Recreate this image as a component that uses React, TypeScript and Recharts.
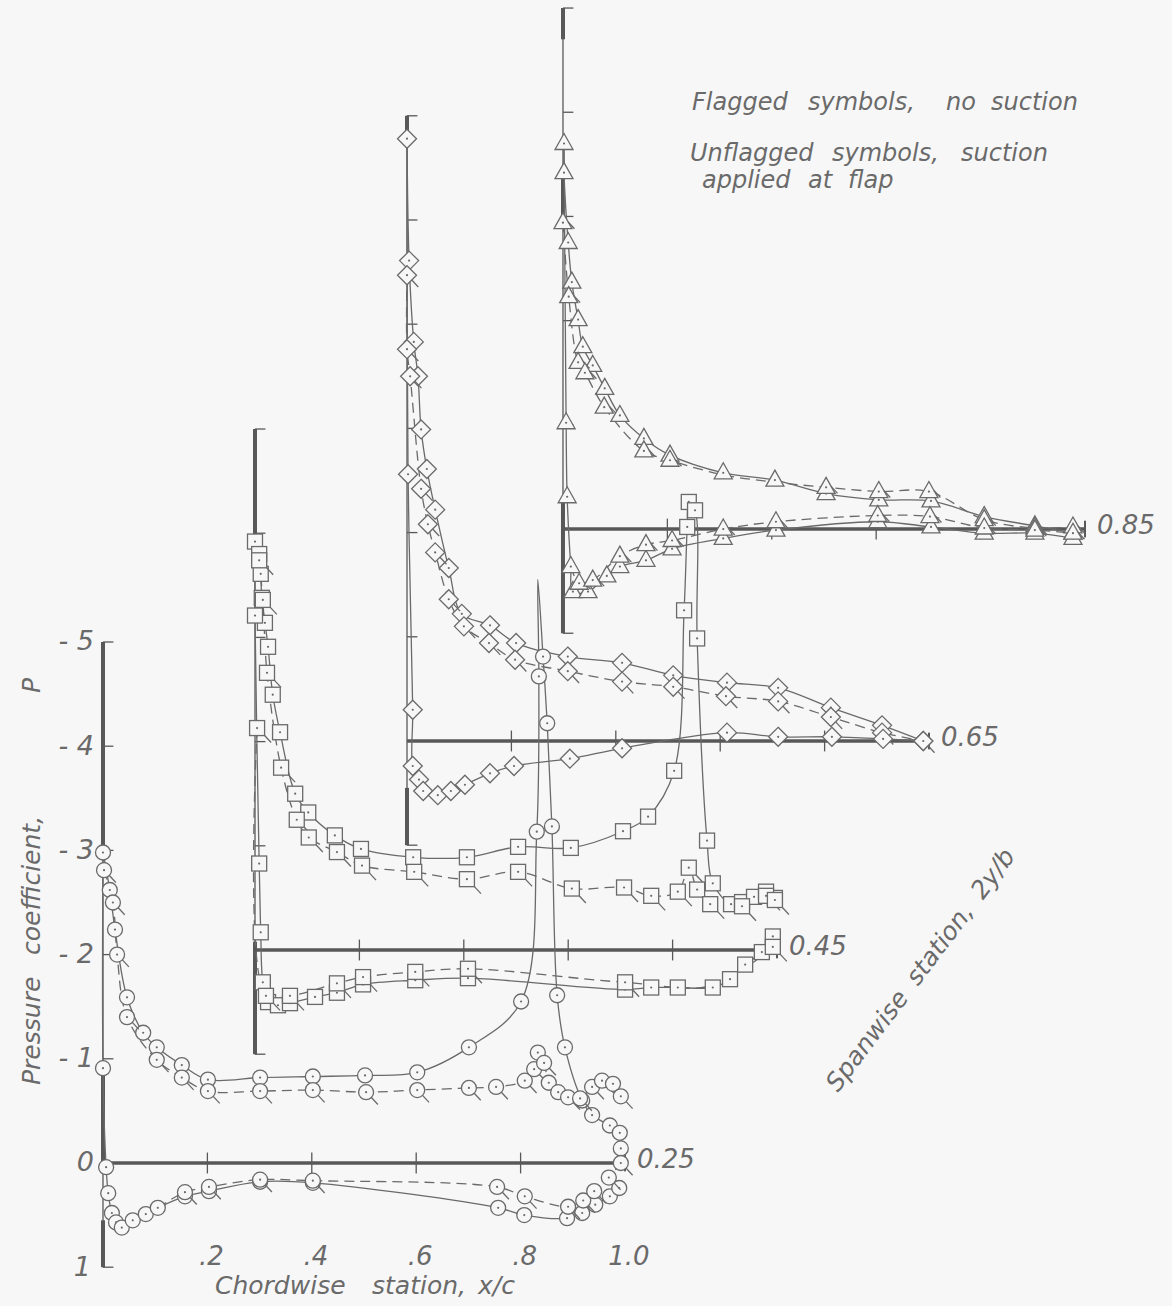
import React from "react";
import {
  ComposedChart,
  Line,
  XAxis,
  YAxis,
  ReferenceLine,
  ReferenceDot,
} from "recharts";

type Pt = [number, number] | [number, number, boolean];

const INK = "#6a6a6a";
const AXIS = "#585858";
const PAPER = "#f7f7f7";
const FONT = "'DejaVu Sans', 'Noto Sans', sans-serif";

const W = 1172;
const H = 1306;
// chordwise / pressure range covered by the sheet
const X_DOMAIN: [number, number] = [-0.1973, 2.0479];
const P_DOMAIN: [number, number] = [-11.1612, 1.3724];

// spanwise stations, each plotted on its own shifted origin
const stations = ["0.25", "0.45", "0.65", "0.85"];
const stationDx = [0, 0.2912, 0.5824, 0.8812];
const stationDp = [0, -2.044, -4.05, -6.084];
const scaleTop = [-5, -5, -6, -5];
const chordTicks = [0.2, 0.4, 0.6, 0.8];
const chordLabels = [".2", ".4", ".6", ".8", "1.0"];
const chordLabelAt = [0.2, 0.4, 0.6, 0.8, 1.0];
const pTicks = [-5, -4, -3, -2, -1, 0, 1];
const pLabels = ["- 5", "- 4", "- 3", "- 2", "- 1", "0", "1"];

// heavy parts of each station's P scale
const heavyScale: [number, number][][] = [
  [[-5, -2.95], [-0.85, 0], [0.55, 1]],
  [[-5, -3.95], [-0.08, 1]],
  [[-6, -5.85], [0.45, 1]],
  [[-5, -4.7], [-3.4, -2.95], [-0.25, 1]],
];

// ---- 2y/b = 0.25 (circles) ----
const upper25Suction: Pt[] = [
  [0, -2.98], [0.013, -2.62], [0.023, -2.24], [0.046, -1.59], [0.077, -1.25],
  [0.103, -1.11], [0.151, -0.94], [0.201, -0.8], [0.301, -0.82], [0.402, -0.83],
  [0.502, -0.84], [0.602, -0.87], [0.701, -1.11], [0.801, -1.55], [0.831, -3.18],
  [0.835, -4.67], [0.833, -5.6, false], [0.843, -4.86], [0.851, -4.22],
  [0.86, -3.23], [0.87, -1.61], [0.885, -1.11], [0.918, -0.6], [0.937, -0.46],
  [0.971, -0.36], [0.99, -0.29], [0.992, -0.14],
];
const upper25NoSuction: Pt[] = [
  [0.002, -2.81], [0.019, -2.5], [0.027, -2.0], [0.046, -1.4], [0.103, -0.99],
  [0.151, -0.82], [0.201, -0.69], [0.301, -0.69], [0.402, -0.7], [0.504, -0.68],
  [0.602, -0.7], [0.701, -0.72], [0.753, -0.73], [0.808, -0.79], [0.826, -0.9],
  [0.833, -1.06], [0.845, -0.96], [0.854, -0.77], [0.872, -0.68], [0.891, -0.63],
  [0.914, -0.62], [0.937, -0.73], [0.956, -0.79], [0.977, -0.76], [0.992, -0.64],
];
const lower25Suction: Pt[] = [
  [0, -2.98, false], [0, -0.91], [0.006, 0.04], [0.01, 0.29], [0.017, 0.48],
  [0.025, 0.57], [0.036, 0.62], [0.057, 0.55], [0.082, 0.49], [0.105, 0.43],
  [0.157, 0.32], [0.203, 0.27], [0.301, 0.18], [0.402, 0.19], [0.757, 0.43],
  [0.807, 0.5], [0.889, 0.53], [0.918, 0.48], [0.943, 0.4], [0.971, 0.32],
  [0.989, 0.24],
];
const lower25NoSuction: Pt[] = [
  [0.105, 0.43, false], [0.157, 0.28], [0.203, 0.23], [0.301, 0.16],
  [0.402, 0.17], [0.755, 0.23], [0.808, 0.32], [0.891, 0.42], [0.92, 0.36],
  [0.941, 0.27], [0.969, 0.14], [0.992, 0.0],
];

// ---- 2y/b = 0.45 (squares) ----
const upper45Suction: Pt[] = [
  [0, -3.92], [0.008, -3.8], [0.011, -3.61], [0.013, -3.38], [0.019, -3.14],
  [0.025, -2.91], [0.034, -2.45], [0.048, -2.09], [0.077, -1.5], [0.102, -1.32],
  [0.153, -1.1], [0.203, -0.97], [0.303, -0.89], [0.406, -0.89], [0.504, -0.99],
  [0.605, -0.98], [0.705, -1.14], [0.753, -1.28], [0.803, -1.72], [0.822, -3.26],
  [0.828, -4.06], [0.831, -4.3], [0.843, -4.22], [0.847, -2.99], [0.866, -1.05],
  [0.877, -0.64], [0.912, -0.44], [0.933, -0.46], [0.956, -0.51], [0.979, -0.56],
  [0.996, -0.5],
];
const upper45NoSuction: Pt[] = [
  [0.008, -3.74], [0.015, -3.36], [0.023, -2.66], [0.05, -1.75], [0.08, -1.25],
  [0.103, -1.08], [0.157, -0.94], [0.205, -0.81], [0.305, -0.75], [0.406, -0.68],
  [0.504, -0.75], [0.607, -0.59], [0.707, -0.6], [0.759, -0.52], [0.81, -0.56],
  [0.831, -0.79], [0.847, -0.58], [0.872, -0.44], [0.933, -0.42], [0.979, -0.52],
  [0.996, -0.48],
];
const lower45Suction: Pt[] = [
  [0, -3.92, false], [0, -3.21], [0.008, -0.83], [0.011, -0.17], [0.015, 0.31],
  [0.025, 0.5], [0.044, 0.53], [0.067, 0.51], [0.115, 0.45], [0.157, 0.41],
  [0.207, 0.33], [0.307, 0.29], [0.408, 0.27], [0.709, 0.38], [0.759, 0.36],
  [0.81, 0.36], [0.877, 0.36], [0.91, 0.28], [0.939, 0.14], [0.971, 0.02],
  [0.992, -0.13],
];
const lower45NoSuction: Pt[] = [
  [0.004, -2.13], [0.021, 0.44], [0.067, 0.44], [0.157, 0.32], [0.207, 0.26],
  [0.307, 0.21], [0.408, 0.18], [0.709, 0.31], [0.877, 0.34, false],
  [0.992, -0.03],
];

// ---- 2y/b = 0.65 (diamonds) ----
const upper65Suction: Pt[] = [
  [0, -5.78], [0.004, -4.61], [0.013, -3.83], [0.021, -3.5], [0.027, -2.99],
  [0.038, -2.61], [0.054, -2.22], [0.08, -1.66], [0.105, -1.22], [0.159, -1.11],
  [0.209, -0.94], [0.308, -0.81], [0.412, -0.75], [0.51, -0.63], [0.613, -0.56],
  [0.711, -0.51], [0.812, -0.32], [0.91, -0.15], [0.989, 0.0],
];
const upper65NoSuction: Pt[] = [
  [0, -4.47], [0, -3.76], [0.006, -3.5], [0.027, -2.42], [0.04, -2.08],
  [0.054, -1.81], [0.08, -1.36], [0.109, -1.1], [0.157, -0.94], [0.207, -0.78],
  [0.308, -0.67], [0.412, -0.57], [0.51, -0.52], [0.611, -0.43], [0.711, -0.38],
  [0.812, -0.23], [0.91, -0.08], [0.989, 0.0],
];
const lower65: Pt[] = [
  [0, -5.78, false], [0.002, -2.56], [0.011, -0.3], [0.011, 0.24], [0.023, 0.37],
  [0.031, 0.48], [0.059, 0.52], [0.084, 0.48], [0.111, 0.42], [0.159, 0.31],
  [0.205, 0.24], [0.312, 0.17], [0.412, 0.07], [0.613, -0.08], [0.711, -0.04],
  [0.814, -0.04], [0.912, -0.02], [0.989, 0.0, false],
];

// ---- 2y/b = 0.85 (triangles) ----
const upper85Suction: Pt[] = [
  [0.002, -3.7], [0.002, -3.42], [0.01, -2.75], [0.017, -2.37], [0.029, -2.01],
  [0.038, -1.75], [0.057, -1.57], [0.08, -1.35], [0.109, -1.09], [0.155, -0.87],
  [0.205, -0.71], [0.307, -0.54], [0.406, -0.47], [0.504, -0.34], [0.605, -0.28],
  [0.705, -0.27], [0.807, -0.12], [0.904, -0.03], [0.977, 0.04],
];
const upper85NoSuction: Pt[] = [
  [0, -2.94], [0.011, -2.23], [0.029, -1.6], [0.042, -1.5], [0.079, -1.17],
  [0.155, -0.75], [0.205, -0.66], [0.307, -0.52, false], [0.406, -0.45, false],
  [0.504, -0.4], [0.605, -0.36], [0.701, -0.36], [0.807, -0.09], [0.904, -0.01],
  [0.977, -0.02],
];
const lower85Suction: Pt[] = [
  [0.002, -3.7, false], [0.006, -1.02], [0.008, -0.31], [0.015, 0.36],
  [0.019, 0.6], [0.048, 0.6], [0.084, 0.45], [0.109, 0.36], [0.159, 0.3],
  [0.209, 0.19], [0.307, 0.09], [0.408, 0.01], [0.603, -0.07], [0.705, -0.02],
  [0.807, 0.04], [0.904, 0.04], [0.977, 0.09],
];
const lower85NoSuction: Pt[] = [
  [0.015, 0.36, false], [0.031, 0.52], [0.057, 0.49], [0.109, 0.26],
  [0.159, 0.15], [0.209, 0.11], [0.307, 0.0], [0.408, -0.07], [0.603, -0.13],
  [0.703, -0.12], [0.807, -0.01], [0.904, 0.01], [0.977, 0.04],
];

type Symbol = "circle" | "square" | "diamond" | "triangle";
const symbols: Symbol[] = ["circle", "square", "diamond", "triangle"];

// flagged = no suction (dashed fairing)
const series = [
  { id: "u25s", st: 0, pts: upper25Suction, flag: false },
  { id: "u25n", st: 0, pts: upper25NoSuction, flag: true },
  { id: "l25s", st: 0, pts: lower25Suction, flag: false },
  { id: "l25n", st: 0, pts: lower25NoSuction, flag: true },
  { id: "u45s", st: 1, pts: upper45Suction, flag: false },
  { id: "u45n", st: 1, pts: upper45NoSuction, flag: true },
  { id: "l45s", st: 1, pts: lower45Suction, flag: false },
  { id: "l45n", st: 1, pts: lower45NoSuction, flag: true },
  { id: "u65s", st: 2, pts: upper65Suction, flag: false },
  { id: "u65n", st: 2, pts: upper65NoSuction, flag: true },
  { id: "l65", st: 2, pts: lower65, flag: false },
  { id: "u85s", st: 3, pts: upper85Suction, flag: false },
  { id: "u85n", st: 3, pts: upper85NoSuction, flag: true },
  { id: "l85s", st: 3, pts: lower85Suction, flag: false },
  { id: "l85n", st: 3, pts: lower85NoSuction, flag: true },
];

const toRows = (pts: Pt[], st: number) =>
  pts.map((p) => ({
    x: p[0] + stationDx[st],
    y: p[1] + stationDp[st],
    mark: p[2] !== false,
  }));

// centripetal Catmull-Rom, drawn through every faired point
const fairCurve = (context: any) => {
  let pts: [number, number][] = [];
  return {
    areaStart() {},
    areaEnd() {},
    lineStart() {
      pts = [];
    },
    point(x: number, y: number) {
      pts.push([+x, +y]);
    },
    lineEnd() {
      const n = pts.length;
      if (!n) return;
      context.moveTo(pts[0][0], pts[0][1]);
      for (let i = 0; i < n - 1; i++) {
        const p0 = pts[Math.max(i - 1, 0)];
        const p1 = pts[i];
        const p2 = pts[i + 1];
        const p3 = pts[Math.min(i + 2, n - 1)];
        const d01 = Math.sqrt(Math.hypot(p1[0] - p0[0], p1[1] - p0[1]));
        const d12 = Math.sqrt(Math.hypot(p2[0] - p1[0], p2[1] - p1[1]));
        const d23 = Math.sqrt(Math.hypot(p3[0] - p2[0], p3[1] - p2[1]));
        let c1x = p1[0], c1y = p1[1], c2x = p2[0], c2y = p2[1];
        if (d01 > 1e-6) {
          const a = 2 * d01 * d01 + 3 * d01 * d12 + d12 * d12;
          const m = 3 * d01 * (d01 + d12);
          c1x = (p1[0] * a - p0[0] * d12 * d12 + p2[0] * d01 * d01) / m;
          c1y = (p1[1] * a - p0[1] * d12 * d12 + p2[1] * d01 * d01) / m;
        }
        if (d23 > 1e-6) {
          const b = 2 * d23 * d23 + 3 * d23 * d12 + d12 * d12;
          const m = 3 * d23 * (d23 + d12);
          c2x = (p2[0] * b + p1[0] * d23 * d23 - p3[0] * d12 * d12) / m;
          c2y = (p2[1] * b + p1[1] * d23 * d23 - p3[1] * d12 * d12) / m;
        }
        context.bezierCurveTo(c1x, c1y, c2x, c2y, p2[0], p2[1]);
      }
    },
  };
};

const Marker = ({ cx, cy, symbol, flag }: any) => {
  let shape: React.ReactNode = null;
  let fx = cx + 5.3;
  let fy = cy + 5.3;
  if (symbol === "circle") {
    shape = <circle cx={cx} cy={cy} r={7.5} />;
  } else if (symbol === "square") {
    shape = <rect x={cx - 7.5} y={cy - 7.5} width={15} height={15} />;
    fx = cx + 7.5;
    fy = cy + 7.5;
  } else if (symbol === "diamond") {
    shape = (
      <polygon
        points={`${cx},${cy - 9.5} ${cx + 9.5},${cy} ${cx},${cy + 9.5} ${cx - 9.5},${cy}`}
      />
    );
    fx = cx + 4.8;
    fy = cy + 4.8;
  } else {
    shape = (
      <polygon
        points={`${cx},${cy - 10} ${cx + 9},${cy + 6} ${cx - 9},${cy + 6}`}
      />
    );
    fx = cx + 5;
    fy = cy - 1;
  }
  return (
    <g fill={PAPER} stroke={INK} strokeWidth={1.3}>
      {shape}
      {flag && <line x1={fx} y1={fy} x2={fx + 6.5} y2={fy + 7} />}
      <circle cx={cx} cy={cy} r={1.1} fill={INK} stroke="none" />
    </g>
  );
};

const makeDot = (id: string, symbol: Symbol, flag: boolean) => (props: any) => {
  const { cx, cy, index, payload } = props;
  const key = `${id}-${index}`;
  if (cx == null || cy == null || !payload || !payload.mark) return <g key={key} />;
  return (
    <g key={key}>
      <Marker cx={cx} cy={cy} symbol={symbol} flag={flag} />
    </g>
  );
};

const Lettering = (props: any) => {
  const { viewBox, t, ox = 0, oy = 0, anc = "middle", fs = 26 } = props;
  if (!viewBox) return null;
  return (
    <text
      x={viewBox.x + ox}
      y={viewBox.y + oy}
      textAnchor={anc}
      dominantBaseline="central"
      fontSize={fs}
      fontStyle="italic"
      fontFamily={FONT}
      fill={INK}
      xmlSpace="preserve"
    >
      {t}
    </text>
  );
};

const seg = (
  key: string,
  x1: number,
  y1: number,
  x2: number,
  y2: number,
  w: number
) => (
  <ReferenceLine
    key={key}
    segment={[
      { x: x1, y: y1 },
      { x: x2, y: y2 },
    ]}
    stroke={AXIS}
    strokeWidth={w}
    ifOverflow="visible"
  />
);

const stationFrame = (st: number) => {
  const dx = stationDx[st];
  const dp = stationDp[st];
  const top = scaleTop[st];
  const out: React.ReactNode[] = [];
  // P scale
  out.push(seg(`ax${st}`, dx, dp + top, dx, dp + 1, 1.3));
  heavyScale[st].forEach(([a, b], i) =>
    out.push(seg(`hv${st}-${i}`, dx, dp + a, dx, dp + b, 4))
  );
  for (let p = top; p <= 1; p++) {
    if (p === 0) continue;
    out.push(seg(`pt${st}-${p}`, dx, dp + p, dx + 0.02, dp + p, 1.3));
  }
  // chord baseline
  out.push(seg(`bl${st}`, dx, dp, dx + 1, dp, 3.5));
  chordTicks.forEach((c) =>
    out.push(seg(`ct${st}-${c}`, dx + c, dp - 0.1, dx + c, dp + 0.1, 1.3))
  );
  out.push(seg(`end${st}`, dx + 1, dp - 0.08, dx + 1, dp + 0.08, 2));
  out.push(
    <ReferenceDot
      key={`lab${st}`}
      x={dx + 1}
      y={dp}
      r={1}
      fill="none"
      stroke="none"
      ifOverflow="visible"
      label={<Lettering t={stations[st]} ox={13} oy={-3} anc="start" fs={26} />}
    />
  );
  return out;
};

// note lettering, word by word: [word, x, baseline]
const noteWords: [string, number, number][] = [
  ["Flagged", 692, 110], ["symbols,", 808, 110], ["no", 946, 110], ["suction", 991, 110],
  ["Unflagged", 690, 161], ["symbols,", 832, 161], ["suction", 961, 161],
  ["applied", 702, 188], ["at", 808, 188], ["flap", 848, 188],
];
const xTitleWords: [string, number][] = [
  ["Chordwise", 215], ["station,", 372], ["x/c", 478],
];
const pTitleWords: [string, number][] = [
  ["Pressure", 1085], ["coefficient,", 955], ["P", 693],
];
const spanTitleWords: [string, number][] = [
  ["Spanwise", 0], ["station,", 133], ["2y/b", 241],
];

const App: React.FC = () => {
  return (
    <div
      style={{
        position: "absolute",
        left: 0,
        top: 0,
        width: W,
        height: H,
        background: PAPER,
        overflow: "hidden",
      }}
    >
      <ComposedChart
        width={W}
        height={H}
        margin={{ top: 0, right: 0, bottom: 0, left: 0 }}
      >
        <XAxis
          dataKey="x"
          type="number"
          domain={X_DOMAIN}
          allowDataOverflow
          hide
        />
        <YAxis
          type="number"
          domain={P_DOMAIN}
          allowDataOverflow
          reversed
          hide
        />
        {stations.map((_, st) => stationFrame(st))}
        {pTicks.map((p, i) => (
          <ReferenceDot
            key={`pl${p}`}
            x={0}
            y={p}
            r={1}
            fill="none"
            stroke="none"
            ifOverflow="visible"
            label={
              <Lettering
                t={pLabels[i]}
                ox={p === 1 ? -11 : -8}
                oy={0}
                anc="end"
                fs={27}
              />
            }
          />
        ))}
        {chordLabelAt.map((c, i) => (
          <ReferenceDot
            key={`cl${c}`}
            x={c}
            y={0.9}
            r={1}
            fill="none"
            stroke="none"
            ifOverflow="visible"
            label={<Lettering t={chordLabels[i]} ox={5} oy={0} fs={26} />}
          />
        ))}
        {series.map((s) => (
          <Line
            key={s.id}
            data={toRows(s.pts, s.st)}
            dataKey="y"
            type={fairCurve as any}
            stroke={INK}
            strokeWidth={1.3}
            strokeDasharray={s.flag ? "10 6" : undefined}
            dot={makeDot(s.id, symbols[s.st], s.flag)}
            activeDot={false}
            legendType="none"
            isAnimationActive={false}
          />
        ))}
      </ComposedChart>
      <svg
        width={W}
        height={H}
        style={{ position: "absolute", left: 0, top: 0, pointerEvents: "none" }}
      >
        <g fontFamily={FONT} fontStyle="italic" fill={INK} fontSize={25}>
          {noteWords.map(([w, x, y]) => (
            <text key={`${w}-${x}-${y}`} x={x} y={y} fontSize={24}>
              {w}
            </text>
          ))}
          <text transform="translate(40,0) rotate(-90)">
            {pTitleWords.map(([w, y]) => (
              <tspan key={w} x={-y} y={0}>
                {w}
              </tspan>
            ))}
          </text>
          {xTitleWords.map(([w, x]) => (
            <text key={w} x={x} y={1294}>
              {w}
            </text>
          ))}
          <text transform="translate(838,1093) rotate(-53)">
            {spanTitleWords.map(([w, x]) => (
              <tspan key={w} x={x} y={0}>
                {w}
              </tspan>
            ))}
          </text>
        </g>
      </svg>
    </div>
  );
};

export default App;
